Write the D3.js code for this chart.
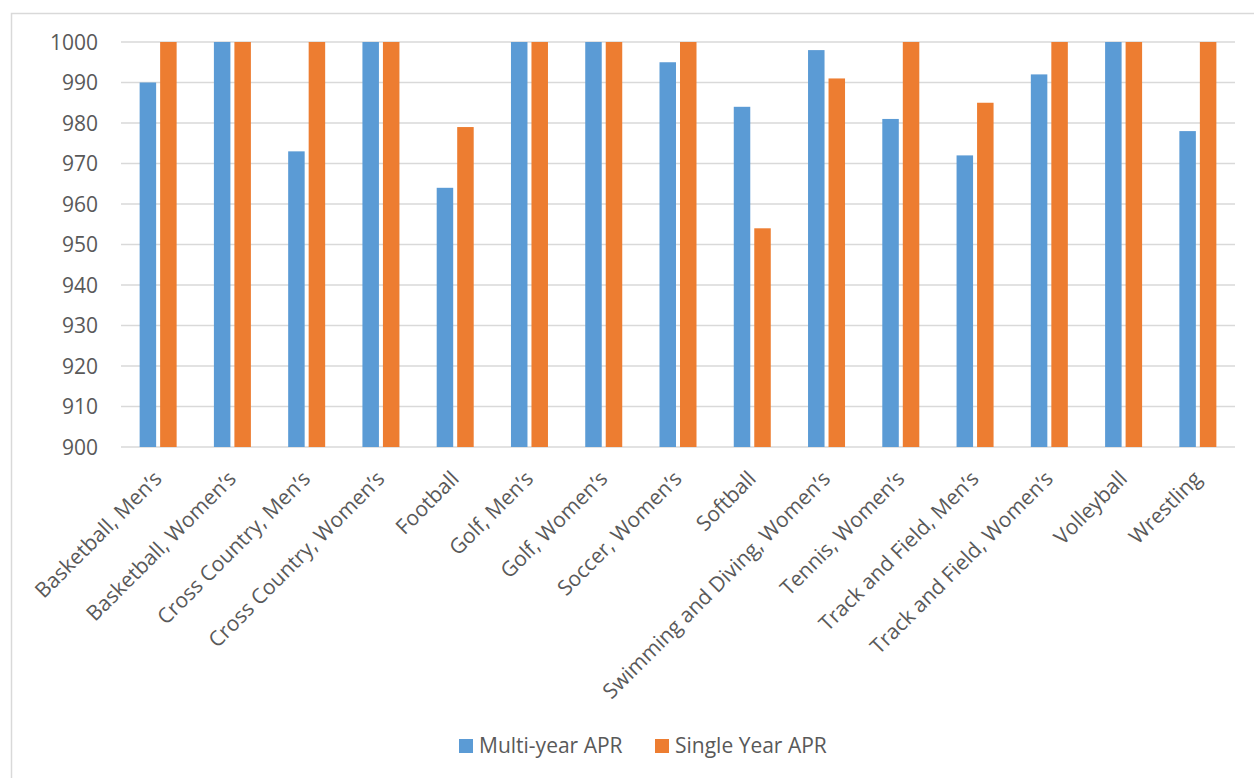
<!DOCTYPE html>
<html><head><meta charset="utf-8">
<script src="https://cdn.jsdelivr.net/npm/d3@7"></script>
<style>body{margin:0;background:#fff;}svg{display:block;font-family:"Open Sans",sans-serif;}</style>
</head><body>
<svg id="c" width="1254" height="778"></svg>
<script>
const categories = ["Basketball, Men’s","Basketball, Women’s","Cross Country, Men’s","Cross Country, Women’s","Football","Golf, Men’s","Golf, Women’s","Soccer, Women’s","Softball","Swimming and Diving, Women’s","Tennis, Women’s","Track and Field, Men’s","Track and Field, Women’s","Volleyball","Wrestling"];
const multiYear = [990,1000,973,1000,964,1000,1000,995,984,998,981,972,992,1000,978];
const singleYear = [1000,1000,1000,1000,979,1000,1000,1000,954,991,1000,985,1000,1000,1000];
const seriesNames = ["Multi-year APR","Single Year APR"];
const colors = ["#5b9bd5","#ed7d31"];
const yTicks = [900,910,920,930,940,950,960,970,980,990,1000];

const svg = d3.select("#c");
svg.append("rect").attr("x",11.5).attr("y",13.5).attr("width",1260).attr("height",800)
  .attr("fill","none").attr("stroke","#d9d9d9").attr("stroke-width",1.5);

const L=121,R=1235,T=42,B=447;
const x = d3.scaleBand().domain(categories).range([L,R]).paddingInner(0).paddingOuter(0);
const y = d3.scaleLinear().domain([900,1000]).range([B,T]);
const barW = 16.5, gap = 4;
const FS = 21;

// gridlines
svg.append("g").selectAll("line").data(yTicks).join("line")
  .attr("x1",L).attr("x2",R).attr("y1",d=>y(d)).attr("y2",d=>y(d))
  .attr("stroke","#d9d9d9").attr("stroke-width",1.5);

// y axis labels
const yAxis = d3.axisLeft(y).tickValues(yTicks).tickFormat(d3.format("d")).tickSize(0).tickPadding(0);
const ya = svg.append("g").attr("transform",`translate(${L-23},0)`).call(yAxis);
ya.select(".domain").remove();
ya.selectAll("text").attr("font-size",FS).attr("fill","#595959").attr("font-family","Open Sans").attr("dy","0.35em");

const series = [multiYear, singleYear];
series.forEach((vals,si)=>{
  svg.append("g").selectAll("rect").data(vals).join("rect")
    .attr("x",(d,i)=>x(categories[i])+x.bandwidth()/2 + (si===0 ? -gap/2-barW : gap/2))
    .attr("y",d=>y(d)).attr("width",barW).attr("height",d=>B-y(d))
    .attr("fill",colors[si]);
});

// x labels
const xa = svg.append("g");
xa.selectAll("text").data(categories).join("text")
  .attr("transform",d=>`translate(${x(d)+x.bandwidth()/2+5},${B+33}) rotate(-45)`)
  .attr("text-anchor","end").attr("font-size",FS).attr("fill","#595959")
  .text(d=>d);

// legend
const lg = svg.append("g");
const lx = [459,655];
seriesNames.forEach((n,i)=>{
  lg.append("rect").attr("x",lx[i]).attr("y",739).attr("width",14).attr("height",14).attr("fill",colors[i]);
  lg.append("text").attr("x",lx[i]+20).attr("y",753).attr("font-size",FS).attr("fill","#595959").text(n);
});
</script>
</body></html>
